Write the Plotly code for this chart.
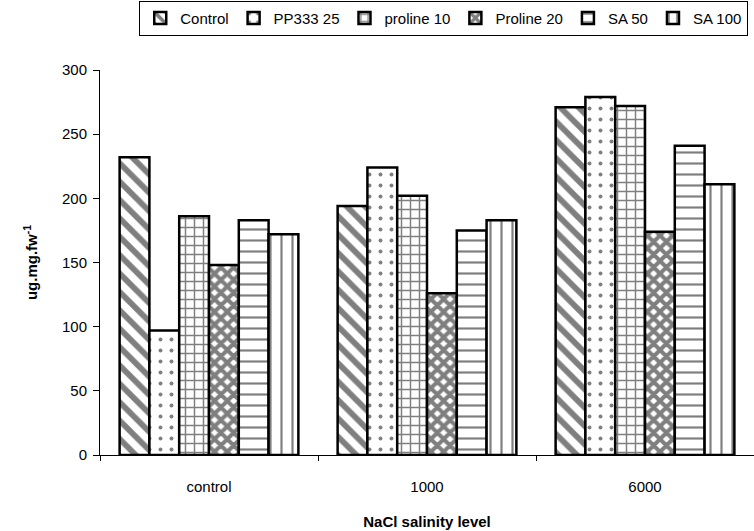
import plotly.graph_objects as go

categories = ["control", "1000", "6000"]
series_names = ["Control", "PP333 25", "proline 10", "Proline 20", "SA 50", "SA 100"]
control_vals = [232, 194, 271]
pp333_vals = [97, 224, 279]
proline10_vals = [186, 202, 272]
proline20_vals = [148, 126, 174]
sa50_vals = [183, 175, 241]
sa100_vals = [172, 183, 211]
y_ticks = [0, 50, 100, 150, 200, 250, 300]

all_vals = [control_vals, pp333_vals, proline10_vals, proline20_vals, sa50_vals, sa100_vals]
patterns = [
    dict(shape="\\", size=13, solidity=0.45),
    dict(shape=".", size=11, solidity=0.1),
    dict(shape="+", size=9, solidity=0.3),
    dict(shape="x", size=9, solidity=0.7),
    dict(shape="-", size=11, solidity=0.2),
    dict(shape="|", size=11, solidity=0.2),
]

fig = go.Figure()
for name, vals, pat in zip(series_names, all_vals, patterns):
    fig.add_trace(go.Bar(
        x=categories, y=vals, name=name,
        marker=dict(color="white", line=dict(color="black", width=2.5),
                    pattern=dict(fgcolor="black", bgcolor="white", **pat)),
    ))

font_family = "Liberation Sans, Arial, sans-serif"
fig.update_layout(
    width=754, height=531,
    margin=dict(l=100, r=0, t=70, b=76),
    plot_bgcolor="white", paper_bgcolor="white",
    barmode="group", bargap=0.18, bargroupgap=0,
    font=dict(family=font_family, size=15, color="black"),
    legend=dict(orientation="h", x=0.06, y=1.18, xanchor="left", yanchor="top",
                bordercolor="black", borderwidth=1, bgcolor="white",
                font=dict(size=15), itemwidth=30, tracegroupgap=0),
    xaxis=dict(showline=True, linecolor="black", linewidth=1, ticks="outside",
               tickson="boundaries", ticklen=5, tickcolor="black",
               ticklabelstandoff=18,
               title=dict(text="<b>NaCl salinity level</b>", standoff=22, font=dict(size=15)),
               showgrid=False),
    yaxis=dict(range=[0, 300], tickvals=y_ticks, showline=True, linecolor="black",
               linewidth=1, ticks="outside", ticklen=6, tickcolor="black", showgrid=False,
               zeroline=False, ticklabelstandoff=3,
               title=dict(text="<b>ug.mg.fw<sup>-1</sup></b>", standoff=20, font=dict(size=15))),
)
fig.write_html("out.html")
